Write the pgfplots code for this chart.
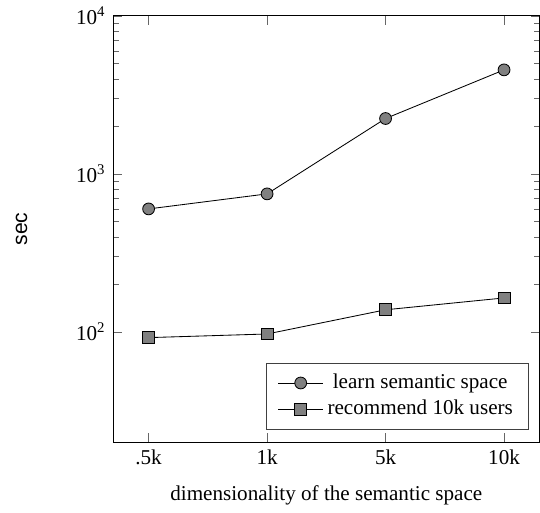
\documentclass[border=0pt]{standalone}
\usepackage{fontspec}
\setmainfont{Liberation Serif}
\newfontfamily\labelsans{Liberation Sans}
\usepackage{pgfplots}
\pgfplotsset{compat=1.18}

\begin{document}
\begin{tikzpicture}
\begin{axis}[
  scale only axis,
  width=202pt, height=202pt,
  ymode=log,
  xmin=-0.3, xmax=3.3,
  ymin=20, ymax=10000,
  xtick={0,1,2,3},
  xticklabels={.5k,1k,5k,10k},
  ytick={100,1000,10000},
  yticklabels={10\textsuperscript{2},10\textsuperscript{3},10\textsuperscript{4}},
  xlabel={dimensionality of the semantic space},
  xlabel shift=3pt,
  ylabel={\labelsans sec},
  ylabel shift=12pt,
  ylabel style={inner ysep=7.5pt},
  tick style={black!60},
  legend style={at={(0.975,0.03)}, anchor=south east, draw=black!75,
    inner xsep=5.4pt, inner ysep=3.2pt},
  legend cell align=center,
  legend image code/.code={
    \draw[mark repeat=2, mark phase=2] plot coordinates {(0cm,0cm) (0.37cm,0cm) (0.74cm,0cm)};
  },
]
\addplot[black, mark=*, mark size=2.8pt, mark options={fill=black!50, draw=black}] coordinates {
(0,600)
(1,747)
(2,2240)
(3,4550)
};
\addlegendentry{learn semantic space}
\addplot[black, mark=square*, mark size=2.8pt, mark options={fill=black!50, draw=black}] coordinates {
(0,92)
(1,97)
(2,138)
(3,164)
};
\addlegendentry{recommend 10k users}
\end{axis}
\end{tikzpicture}
\end{document}
